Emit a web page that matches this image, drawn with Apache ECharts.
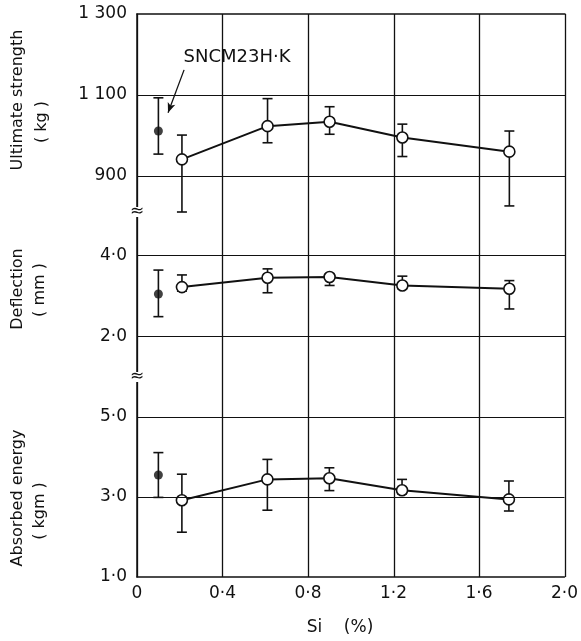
<!DOCTYPE html>
<html><head><meta charset="utf-8">
<script src="https://cdn.jsdelivr.net/npm/echarts@6/dist/echarts.min.js"></script>
<style>html,body{margin:0;padding:0;background:#fff}#c{width:581px;height:641px}</style>
</head><body><div id="c"></div>
<script>
// ---- data ----
const siValues = [0.21, 0.61, 0.90, 1.24, 1.74];
const strengthMean = [941, 1023, 1034, 995, 960];
const strengthLow  = [811, 982, 1003, 948, 826];
const strengthHigh = [1001, 1091, 1071, 1028, 1011];
const deflMean = [3.22, 3.45, 3.47, 3.26, 3.18];
const deflLow  = [3.12, 3.08, 3.26, 3.18, 2.68];
const deflHigh = [3.52, 3.67, 3.55, 3.49, 3.38];
const energyMean = [2.92, 3.44, 3.47, 3.17, 2.94];
const energyLow  = [2.12, 2.67, 3.16, 3.08, 2.65];
const energyHigh = [3.57, 3.94, 3.73, 3.44, 3.40];
const refSi = [0.10];
const refStrength = [1011, 954, 1093];   // mean, low, high
const refDefl = [3.05, 2.49, 3.64];
const refEnergy = [3.55, 2.99, 4.11];
const refLabel = 'SNCM23H·K';
const strengthTicks = [900, 1100, 1300];
const strengthTickText = ['900', '1 100', '1 300'];
const deflTicks = [2, 4];
const energyTicks = [1, 3, 5];
const panelTitles = [['Ultimate strength', '( kg )'], ['Deflection', '( mm )'], ['Absorbed energy', '( kgm )']];
const xName = 'Si    (%)';

// ---- build ----
const INK = '#111';
const FONT = 'DejaVu Sans';
const dot = v => (v === 0 ? '0' : v.toFixed(1).replace('.', '·'));

function errRender(params, api) {
  const x = api.value(0), lo = api.value(1), hi = api.value(2);
  const a = api.coord([x, lo]), b = api.coord([x, hi]);
  const w = 5, st = { stroke: INK, lineWidth: 1.6 };
  return { type: 'group', children: [
    { type: 'line', shape: { x1: a[0], y1: a[1], x2: b[0], y2: b[1] }, style: st },
    { type: 'line', shape: { x1: a[0] - w, y1: a[1], x2: a[0] + w, y2: a[1] }, style: st },
    { type: 'line', shape: { x1: b[0] - w, y1: b[1], x2: b[0] + w, y2: b[1] }, style: st }
  ]};
}

const panels = [
  { mean: strengthMean, low: strengthLow, high: strengthHigh, ref: refStrength, min: 811, max: 1300,
    ticks: strengthTicks, fmt: v => strengthTickText[strengthTicks.indexOf(v)], hlines: [1100, 900] },
  { mean: deflMean, low: deflLow, high: deflHigh, ref: refDefl, min: 1.0, max: 5.074,
    ticks: deflTicks, fmt: dot, hlines: [4, 2] },
  { mean: energyMean, low: energyLow, high: energyHigh, ref: refEnergy, min: 1, max: 6,
    ticks: energyTicks, fmt: dot, hlines: [5, 3] }
];
const grids = [
  { left: 137, width: 428, top: 14, height: 198 },
  { left: 137, width: 428, top: 212, height: 165 },
  { left: 137, width: 428, top: 377, height: 200 },
  { left: 137, width: 428, top: 14, height: 563 }   // frame with the vertical grid lines
];

const xAxis = [], yAxis = [], series = [];
panels.forEach((p, i) => {
  xAxis.push({
    type: 'value', gridIndex: i, min: 0, max: 2, interval: 0.4,
    position: i === 0 ? 'top' : 'bottom',
    axisLine: { show: i === 0 || i === 2, onZero: false, lineStyle: { color: INK, width: 1.5 } },
    axisTick: { show: false },
    axisLabel: { show: i === 2, formatter: dot, fontSize: 17, color: INK, fontFamily: FONT, margin: 8 },
    splitLine: { show: false }
  });
  yAxis.push({
    type: 'value', gridIndex: i, min: p.min, max: p.max, position: 'left',
    axisLine: { show: true, onZero: false, lineStyle: { color: INK, width: 1.5 } },
    axisTick: { show: false },
    splitLine: { show: false },
    axisLabel: { customValues: p.ticks, formatter: p.fmt, fontSize: 17, color: INK, fontFamily: FONT, margin: 10 }
  });
  series.push({
    type: 'custom', xAxisIndex: i, yAxisIndex: i, renderItem: errRender, z: 2,
    encode: { x: 0, y: [1, 2] },
    data: siValues.map((x, k) => [x, p.low[k], p.high[k]]).concat([[refSi[0], p.ref[1], p.ref[2]]])
  });
  series.push({
    type: 'line', xAxisIndex: i, yAxisIndex: i, z: 3,
    data: siValues.map((x, k) => [x, p.mean[k]]),
    symbol: 'circle', symbolSize: 11, showSymbol: true,
    itemStyle: { color: '#fff', borderColor: INK, borderWidth: 1.6 },
    lineStyle: { color: INK, width: 2 },
    markLine: {
      silent: true, symbol: ['none', 'none'], label: { show: false }, animation: false,
      lineStyle: { color: INK, width: 1.2, type: 'solid' },
      data: p.hlines.map(v => ({ yAxis: v }))
    }
  });
  const refSeries = {
    type: 'scatter', xAxisIndex: i, yAxisIndex: i, z: 4,
    data: [[refSi[0], p.ref[0]]], symbol: 'circle', symbolSize: 9,
    itemStyle: { color: INK }
  };
  if (i === 0) {
    refSeries.markLine = {
      silent: true, animation: false, label: { show: false },
      lineStyle: { color: INK, width: 1.3, type: 'solid' },
      symbol: ['none', 'arrow'], symbolSize: [6, 10],
      data: [[{ coord: [0.22, 1162] }, { coord: [0.145, 1056] }]]
    };
  }
  series.push(refSeries);
});
// frame grid: continuous vertical lines at every 0.4 % Si, including both borders
xAxis.push({
  type: 'value', gridIndex: 3, min: 0, max: 2, interval: 0.4,
  axisLine: { show: false }, axisTick: { show: false }, axisLabel: { show: false },
  splitLine: { show: true, showMinLine: true, showMaxLine: true, lineStyle: { color: INK, width: 1.3 } }
});
yAxis.push({ type: 'value', gridIndex: 3, min: 0, max: 1, show: false, splitLine: { show: false } });
series.push({ type: 'scatter', xAxisIndex: 3, yAxisIndex: 3, data: [], silent: true });

const graphic = [];
const titlePos = [[18, 100, 42, 122], [18, 289, 40, 290], [18, 498, 40, 511]];
panelTitles.forEach((t, i) => {
  const [x1, y1, x2, y2] = titlePos[i];
  graphic.push({ type: 'text', x: x1, y: y1, rotation: Math.PI / 2,
    style: { text: t[0], fontSize: 16, fontFamily: FONT, fill: INK, align: 'center', verticalAlign: 'middle' } });
  graphic.push({ type: 'text', x: x2, y: y2, rotation: Math.PI / 2,
    style: { text: t[1], fontSize: 16, fontFamily: FONT, fill: INK, align: 'center', verticalAlign: 'middle' } });
});
[212, 377].forEach(y => {
  graphic.push({ type: 'rect', shape: { x: 131, y: y - 5, width: 12, height: 10 }, style: { fill: '#fff' }, z: 100 });
  graphic.push({ type: 'text', x: 137, y: y, z: 101,
    style: { text: '≈', fontSize: 17, fontFamily: FONT, fill: INK, align: 'center', verticalAlign: 'middle' } });
});
graphic.push({ type: 'text', x: 237, y: 57,
  style: { text: refLabel, fontSize: 18, fontFamily: FONT, fill: INK, align: 'center', verticalAlign: 'middle' } });
graphic.push({ type: 'text', x: 340, y: 628,
  style: { text: xName, fontSize: 17, fontFamily: FONT, fill: INK, align: 'center', verticalAlign: 'middle' } });

const chart = echarts.init(document.getElementById('c'), null, { renderer: 'canvas' });
chart.setOption({
  backgroundColor: '#fff', animation: false,
  grid: grids, xAxis, yAxis, series, graphic
});
</script></body></html>
